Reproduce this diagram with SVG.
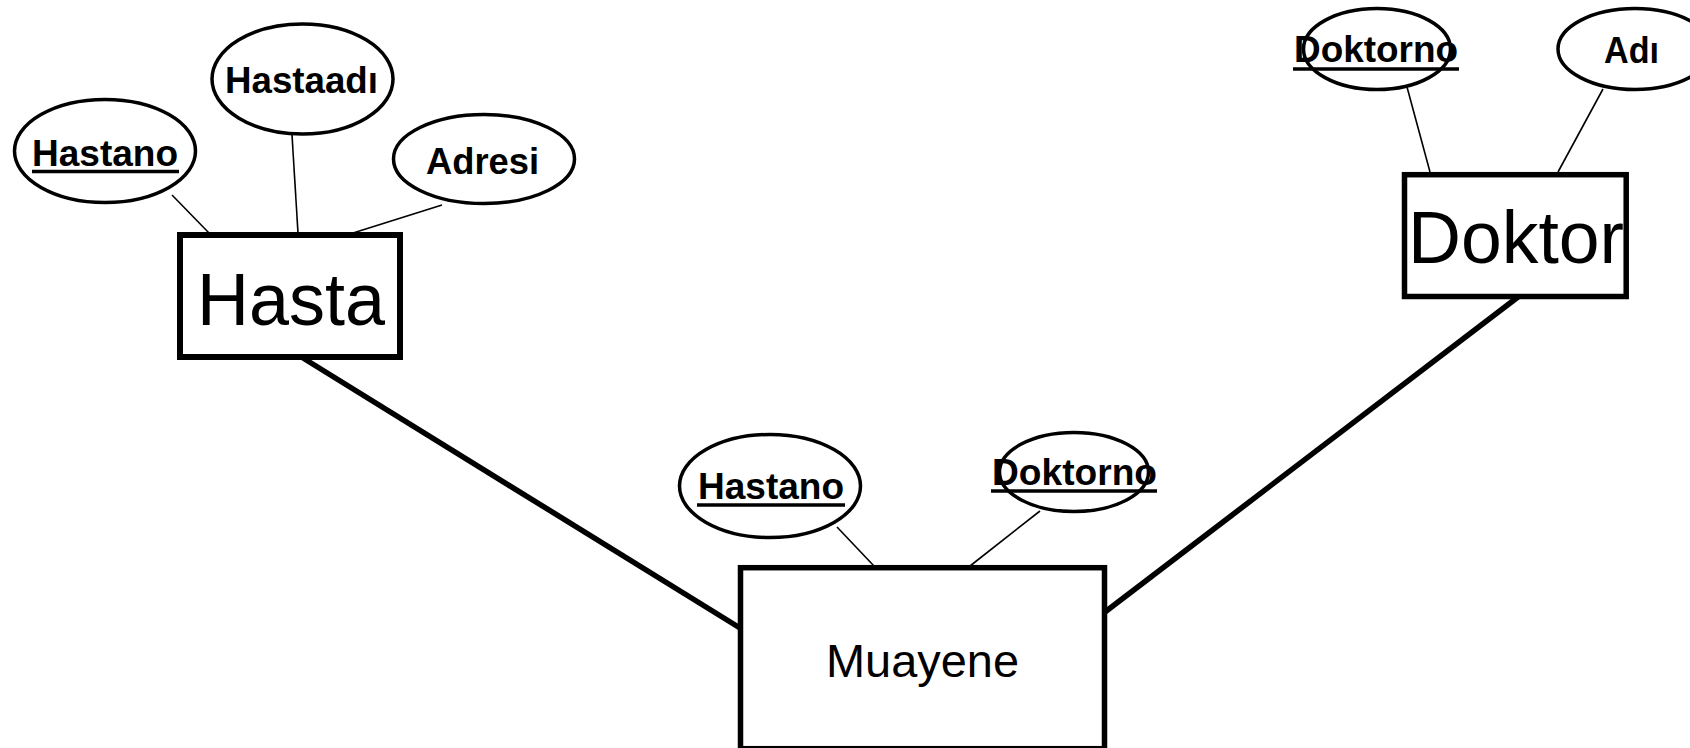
<svg xmlns="http://www.w3.org/2000/svg" width="1690" height="748" viewBox="0 0 1690 748">
<style>
.attr{fill:#fff;stroke:#000;stroke-width:3.5}
.ent{fill:#fff;stroke:#000;stroke-width:5.5}
.at{font-family:"Liberation Sans",Arial,sans-serif;font-weight:bold;font-size:36px;fill:#000}
.et{font-family:"Liberation Sans",Arial,sans-serif;font-size:74px;fill:#000}
.ul{stroke:#000;stroke-width:3.5}
.thin{stroke:#000;stroke-width:1.6;fill:none}
.thick{stroke:#000;stroke-width:5.5;fill:none}
</style>
<rect width="1690" height="748" fill="#fff"/>
<g id="connectors">
<line class="thin" x1="172" y1="195" x2="209" y2="233"/>
<line class="thin" x1="292" y1="135" x2="298" y2="233"/>
<line class="thin" x1="442" y1="205" x2="353" y2="233"/>
<line class="thin" x1="1407" y1="87" x2="1430" y2="172"/>
<line class="thin" x1="1603" y1="89" x2="1558" y2="172"/>
<line class="thin" x1="837" y1="527" x2="874" y2="566"/>
<line class="thin" x1="1040" y1="511" x2="970" y2="566"/>
<line class="thick" x1="303" y1="358" x2="740" y2="628"/>
<line class="thick" x1="1105" y1="612" x2="1518" y2="297"/>
</g>
<g id="hasta">
<rect class="ent" x="180" y="235" width="220" height="122" style="stroke-width:6"/>
<text class="et" x="197" y="325" textLength="188" lengthAdjust="spacingAndGlyphs">Hasta</text>
</g>
<g id="doktor">
<rect class="ent" x="1404.5" y="174.7" width="221.7" height="121.8"/>
<text class="et" x="1408" y="263" textLength="216" lengthAdjust="spacingAndGlyphs">Doktor</text>
</g>
<g id="muayene">
<rect class="ent" x="740.5" y="567.7" width="364" height="181"/>
<text x="826" y="677" font-family="Liberation Sans, Arial, sans-serif" font-size="47" textLength="193" lengthAdjust="spacingAndGlyphs">Muayene</text>
</g>
<g id="hasta-hastano">
<ellipse class="attr" cx="105" cy="151" rx="90.5" ry="51.5"/>
<text class="at" x="32" y="166" textLength="146" lengthAdjust="spacingAndGlyphs">Hastano</text>
<line class="ul" x1="32" y1="171.5" x2="179" y2="171.5"/>
</g>
<g id="hasta-hastaadi">
<ellipse class="attr" cx="302.5" cy="79" rx="90.5" ry="55"/>
<text class="at" x="225" y="93" textLength="153" lengthAdjust="spacingAndGlyphs">Hastaadı</text>
</g>
<g id="hasta-adresi">
<ellipse class="attr" cx="484" cy="159" rx="90.5" ry="44.5"/>
<text class="at" x="426" y="174" textLength="113" lengthAdjust="spacingAndGlyphs">Adresi</text>
</g>
<g id="doktor-doktorno">
<ellipse class="attr" cx="1377" cy="49" rx="73.5" ry="40.5"/>
<text class="at" x="1294" y="62" textLength="164" lengthAdjust="spacingAndGlyphs">Doktorno</text>
<line class="ul" x1="1293" y1="69" x2="1459" y2="69"/>
</g>
<g id="doktor-adi">
<ellipse class="attr" cx="1635" cy="49" rx="77" ry="40.5"/>
<text class="at" x="1604" y="63" textLength="55" lengthAdjust="spacingAndGlyphs">Adı</text>
</g>
<g id="muayene-hastano">
<ellipse class="attr" cx="770" cy="486" rx="90.5" ry="51.5"/>
<text class="at" x="698" y="499" textLength="146" lengthAdjust="spacingAndGlyphs">Hastano</text>
<line class="ul" x1="697" y1="505" x2="845" y2="505"/>
</g>
<g id="muayene-doktorno">
<ellipse class="attr" cx="1074" cy="472" rx="74.5" ry="39.5"/>
<text class="at" x="992" y="485" textLength="165" lengthAdjust="spacingAndGlyphs">Doktorno</text>
<line class="ul" x1="991" y1="491" x2="1157" y2="491"/>
</g>
</svg>
